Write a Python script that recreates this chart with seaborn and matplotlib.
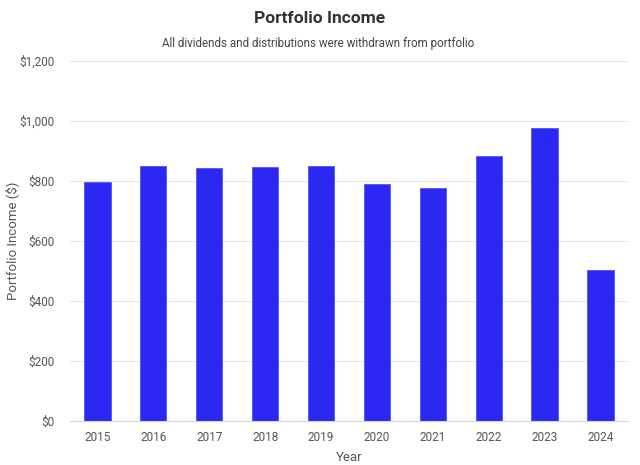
import matplotlib
matplotlib.use("Agg")
import matplotlib.pyplot as plt
import seaborn as sns
import pandas as pd
from matplotlib.ticker import FuncFormatter

years = ["2015", "2016", "2017", "2018", "2019", "2020", "2021", "2022", "2023", "2024"]
income = [798, 851, 842, 848, 851, 791, 778, 883, 977, 503]
yticks = [0, 200, 400, 600, 800, 1000, 1200]

sns.set_theme(style="white")
plt.rcParams['font.family'] = ['Roboto', 'DejaVu Sans']

df = pd.DataFrame({"Year": years, "Income": income})

fig = plt.figure(figsize=(6.4, 4.65), dpi=100)
ax = fig.add_axes([0.1086, 0.0946, 0.8734, 0.7742])
sns.barplot(data=df, x="Year", y="Income", color="#2B28F4", width=0.47,
            saturation=1, ax=ax, edgecolor="#5552F6", linewidth=0.6)

ax.set_ylim(0, 1200)
ax.set_yticks(yticks)
ax.yaxis.set_major_formatter(FuncFormatter(lambda v, p: f"${int(v):,}"))
ax.set_xlim(-0.5, len(years) - 0.5)
ax.grid(axis="y", color="#e6e6e6", linewidth=0.8)
ax.set_axisbelow(True)
for s in ["top", "right", "left"]:
    ax.spines[s].set_visible(False)
ax.spines["bottom"].set_color("#ccd6eb")
ax.spines["bottom"].set_linewidth(0.8)
ax.tick_params(axis="both", length=0, labelsize=8.5, labelcolor="#555555")
ax.tick_params(axis="y", pad=11)
ax.tick_params(axis="x", pad=7)
ax.set_xlabel("Year", fontsize=9.5, color="#555555", labelpad=5)
ax.set_ylabel("Portfolio Income ($)", fontsize=9.5, color="#555555")
ax.yaxis.label.set_verticalalignment("center")
ax.yaxis.set_label_coords(-0.103, 0.5)

fig.text(0.5, 0.961, "Portfolio Income", ha="center", va="center",
         fontsize=12.5, fontweight="bold", color="#333333")
fig.text(0.497, 0.9075, "All dividends and distributions were withdrawn from portfolio",
         ha="center", va="center", fontsize=8.4, color="#444444")

fig.savefig("out.png", dpi=100)
